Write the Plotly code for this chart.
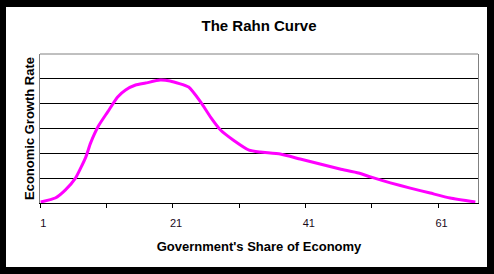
import plotly.graph_objects as go

gov_share = [1.1, 3.3, 4.8, 6.35, 7.9, 8.6, 9.8, 11.2, 12.7, 13.9, 15.4, 16.9, 19.1, 20.6,
             23.4, 25.2, 26.7, 28.2, 30.1, 32.5, 34.2, 37.2, 40.2, 43.2, 46.2, 49.0,
             50.8, 53.8, 56.8, 59.8, 62.8, 66.6]
growth = [0.04, 0.2, 0.52, 1.0, 1.85, 2.4, 3.1, 3.67, 4.27, 4.55, 4.75, 4.83, 4.95, 4.91,
          4.67, 4.07, 3.46, 2.94, 2.54, 2.13, 2.05, 1.97, 1.77, 1.57, 1.37, 1.21,
          1.05, 0.81, 0.6, 0.4, 0.2, 0.04]

tick_pos = [1.5, 21.5, 41.5, 61.5]
tick_text = ["1", "21", "41", "61"]
minor_ticks = [1, 11, 21, 31, 41, 51, 61]
grid_vals = [1, 2, 3, 4, 5]

FONT = "Liberation Sans, Arial, sans-serif"

fig = go.Figure()
fig.add_trace(go.Scatter(
    x=gov_share, y=growth, mode="lines",
    line=dict(color="#FF00FF", width=3, shape="spline", smoothing=0.5),
    hoverinfo="skip", showlegend=False,
))

W, H = 494, 274
L, R, T, B = 40, 16, 54, 71
pw, ph = W - L - R, H - T - B

def px_x(p):
    return (p - L) / pw

def px_y(p):
    return (H - B - p) / ph

fig.update_layout(
    width=W, height=H,
    margin=dict(l=L, r=R, t=T, b=B, pad=0),
    paper_bgcolor="black",
    plot_bgcolor="#C0C0C0",
    title=dict(text="<b>The Rahn Curve</b>", x=0.5, xanchor="center",
               xref="paper", y=(H - 26) / H, yref="container", yanchor="middle",
               font=dict(family=FONT, size=15, color="black")),
    font=dict(family=FONT, color="black"),
    shapes=[
        dict(type="rect", xref="paper", yref="paper",
             x0=px_x(6), x1=px_x(487), y0=px_y(267), y1=px_y(7),
             fillcolor="white", line=dict(width=0), layer="below"),
        dict(type="line", xref="paper", yref="paper", x0=0, x1=1, y0=1, y1=1,
             line=dict(color="#808080", width=1), layer="above"),
    ],
    xaxis=dict(
        range=[1, 67], tickmode="array", tickvals=tick_pos, ticktext=tick_text,
        ticks="", showgrid=False, zeroline=False,
        showline=True, linecolor="black", linewidth=1,
        tickfont=dict(family=FONT, size=11, color="#1a0a1a"),
        ticklabelstandoff=10,
        minor=dict(tickmode="array", tickvals=minor_ticks, ticks="outside",
                   ticklen=4, tickcolor="black", tickwidth=1, showgrid=False),
        title=dict(text="<b>Government's Share of Economy</b>",
                   font=dict(family=FONT, size=13, color="black"), standoff=13),
        fixedrange=True,
    ),
    yaxis=dict(
        range=[0, 6], tickmode="array", tickvals=grid_vals, showticklabels=False,
        ticks="", showgrid=True, gridcolor="black", gridwidth=1, zeroline=False,
        showline=True, linecolor="#808080", linewidth=1, mirror=True,
        title=dict(text="<b>Economic Growth Rate</b>",
                   font=dict(family=FONT, size=13, color="black"), standoff=1),
        fixedrange=True,
    ),
)

fig.write_html("out.html")
